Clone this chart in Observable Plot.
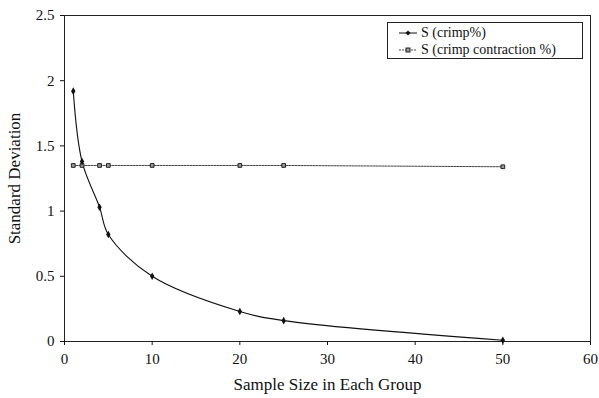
<!DOCTYPE html>
<html><head><meta charset="utf-8">
<script src="https://cdn.jsdelivr.net/npm/d3@7"></script>
<script src="https://cdn.jsdelivr.net/npm/@observablehq/plot@0.6"></script>
<style>
body{margin:0;background:#fff}
#wrap{position:relative;width:599px;height:398px;font-family:"Liberation Serif","Times New Roman",serif}
#wrap g[aria-label="x-axis label"] text, #wrap g[aria-label="y-axis label"] text{font-size:17px}
#leg{position:absolute;left:387px;top:22px;width:196px;height:37px;border:1px solid #222;box-sizing:border-box;background:#fff;font-size:14px;color:#111;padding:1px 0 0 10px;line-height:17px;font-family:"Liberation Serif","Times New Roman",serif}
#leg div{display:flex;align-items:center;white-space:nowrap}
#leg svg{margin-right:3px}
</style>
</head><body>
<div id="wrap"></div>
<script>
const sampleSizes = [1, 2, 4, 5, 10, 20, 25, 50];
const crimpSD = [1.92, 1.38, 1.03, 0.82, 0.50, 0.23, 0.16, 0.01];
const contractionSD = [1.35, 1.35, 1.35, 1.35, 1.35, 1.35, 1.35, 1.34];
const xTicks = [0, 10, 20, 30, 40, 50, 60];
const yTicks = [0, 0.5, 1, 1.5, 2, 2.5];
const seriesNames = ["S (crimp%)", "S (crimp contraction %)"];

const crimp = sampleSizes.map((n, i) => ({n, sd: crimpSD[i]}));
const contraction = sampleSizes.map((n, i) => ({n, sd: contractionSD[i]}));

const chart = Plot.plot({
  width: 599, height: 398,
  marginLeft: 64, marginRight: 9, marginTop: 15, marginBottom: 57,
  style: {fontFamily: '"Liberation Serif","Times New Roman",serif', fontSize: "15px", color: "#111", background: "#fff"},
  x: {domain: [0, 60], ticks: xTicks},
  y: {domain: [0, 2.5], ticks: yTicks},
  marks: [
    Plot.frame({stroke: "#222", strokeWidth: 1}),
    Plot.axisX({ticks: xTicks, tickSize: 4, tickPadding: 8, tickFormat: d => String(d), label: "Sample Size in Each Group", labelAnchor: "center", labelArrow: "none", labelOffset: 48, fontSize: 15}),
    Plot.axisY({ticks: yTicks, tickSize: 4, tickPadding: 6, tickFormat: d => String(d), label: "Standard Deviation", labelAnchor: "center", labelArrow: "none", labelOffset: 57, fontSize: 15}),
    Plot.line(contraction, {x: "n", y: "sd", stroke: "#444", strokeWidth: 1, strokeDasharray: "2,1"}),
    Plot.line(crimp, {x: "n", y: "sd", stroke: "#111", strokeWidth: 1.1, curve: "catmull-rom"}),
    Plot.dot(contraction, {x: "n", y: "sd", symbol: "square", r: 2.1, fill: "#999", stroke: "#222", strokeWidth: 1}),
    Plot.dot(crimp, {x: "n", y: "sd", symbol: "diamond", r: 2.3, fill: "#111", stroke: "none"})
  ]
});
const wrap = document.getElementById("wrap");
wrap.appendChild(chart);

const leg = document.createElement("div");
leg.id = "leg";
const syms = [
  '<svg width="20" height="10"><line x1="1" y1="5" x2="19" y2="5" stroke="#111"/><path d="M10,2.5L12.5,5L10,7.5L7.5,5Z" fill="#111"/></svg>',
  '<svg width="20" height="10"><line x1="1" y1="5" x2="19" y2="5" stroke="#444" stroke-dasharray="2,1"/><rect x="8" y="3" width="4" height="4" fill="#999" stroke="#222"/></svg>'
];
seriesNames.forEach((name, i) => {
  const row = document.createElement("div");
  row.innerHTML = syms[i] + "<span>" + name + "</span>";
  leg.appendChild(row);
});
wrap.appendChild(leg);
</script>
</body></html>
